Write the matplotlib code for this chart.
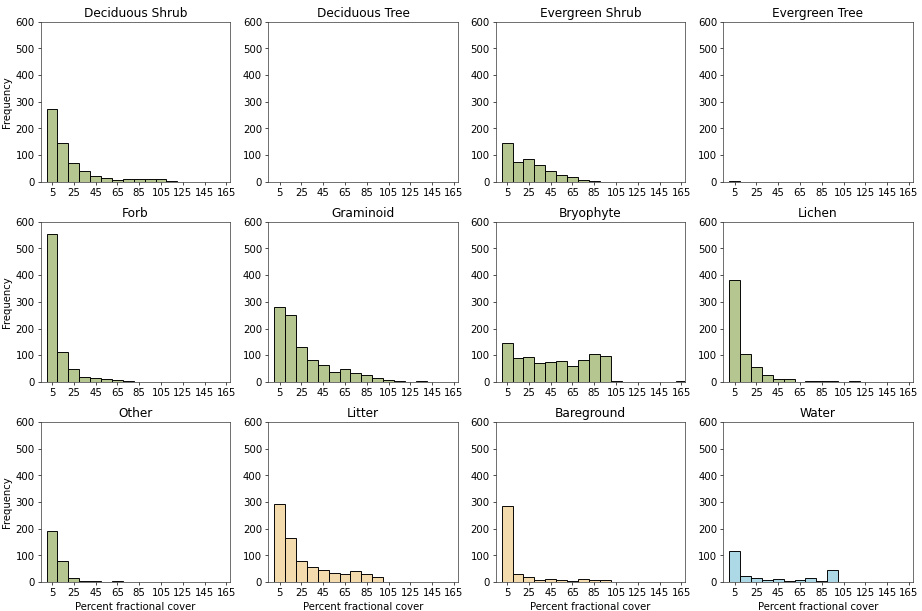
import numpy as np
import matplotlib
matplotlib.use("Agg")
import matplotlib.pyplot as plt

# bin counts per 10 % cover bin (0-10, 10-20, ... 160-170)
bin_edges = list(range(0, 171, 10))
tick_positions = list(range(5, 170, 20))

cover_types = [
    "Deciduous Shrub", "Deciduous Tree", "Evergreen Shrub", "Evergreen Tree",
    "Forb", "Graminoid", "Bryophyte", "Lichen",
    "Other", "Litter", "Bareground", "Water",
]

deciduous_shrub = [274, 144, 69, 41, 22, 14, 7, 11, 10, 10, 10, 2, 1, 0, 1, 1, 0]
deciduous_tree = [0] * 17
evergreen_shrub = [145, 76, 87, 62, 40, 26, 17, 7, 4, 1, 0, 0, 0, 0, 0, 0, 0]
evergreen_tree = [2, 0, 0, 0, 0, 0, 0, 0, 0, 0, 0, 0, 0, 0, 0, 0, 0]
forb = [553, 113, 50, 18, 15, 10, 6, 3, 0, 0, 0, 0, 0, 0, 0, 0, 0]
graminoid = [280, 252, 130, 83, 65, 38, 47, 33, 24, 15, 7, 2, 0, 2, 0, 0, 0]
bryophyte = [146, 90, 92, 72, 76, 78, 60, 83, 103, 98, 2, 0, 0, 0, 0, 0, 2]
lichen = [383, 103, 55, 27, 10, 9, 0, 2, 2, 2, 0, 2, 0, 0, 0, 0, 0]
other = [192, 78, 15, 3, 3, 0, 3, 1, 0, 0, 0, 0, 0, 0, 0, 0, 0]
litter = [293, 163, 78, 55, 45, 35, 28, 42, 28, 20, 0, 0, 0, 0, 0, 0, 0]
bareground = [283, 28, 18, 7, 10, 7, 4, 10, 7, 6, 0, 0, 0, 0, 0, 0, 0]
water = [117, 24, 14, 9, 11, 4, 7, 15, 3, 43, 0, 0, 0, 0, 0, 0, 0]

counts = [
    deciduous_shrub, deciduous_tree, evergreen_shrub, evergreen_tree,
    forb, graminoid, bryophyte, lichen,
    other, litter, bareground, water,
]

GREEN = "#b5c691"
TAN = "#f3dbae"
BLUE = "#add8e6"
colors = [GREEN] * 9 + [TAN, TAN, BLUE]

fig, axes = plt.subplots(3, 4, figsize=(15, 9.935))
fig.subplots_adjust(left=0.044, right=0.989, bottom=0.0475, top=0.964,
                    wspace=0.20, hspace=0.25)

centers = np.array(bin_edges[:-1]) + 5
for i, ax in enumerate(axes.flat):
    ax.hist(centers, bins=bin_edges, weights=counts[i], color=colors[i],
            edgecolor="black", linewidth=1.1)
    ax.set_title(cover_types[i], fontsize=14.2)
    ax.set_xticks(tick_positions)
    ax.set_xlim(-5.5, 168.5)
    ax.set_ylim(0, 600)
    ax.set_yticks(range(0, 601, 100))
    ax.tick_params(labelsize=11.8)
    for spine in ax.spines.values():
        spine.set_edgecolor("#333333")
    if i % 4 == 0:
        ax.set_ylabel("Frequency", fontsize=11.8)
    if i >= 8:
        ax.set_xlabel("Percent fractional cover", fontsize=11.8)

fig.savefig("out.png", dpi=61.53)
plt.close(fig)
